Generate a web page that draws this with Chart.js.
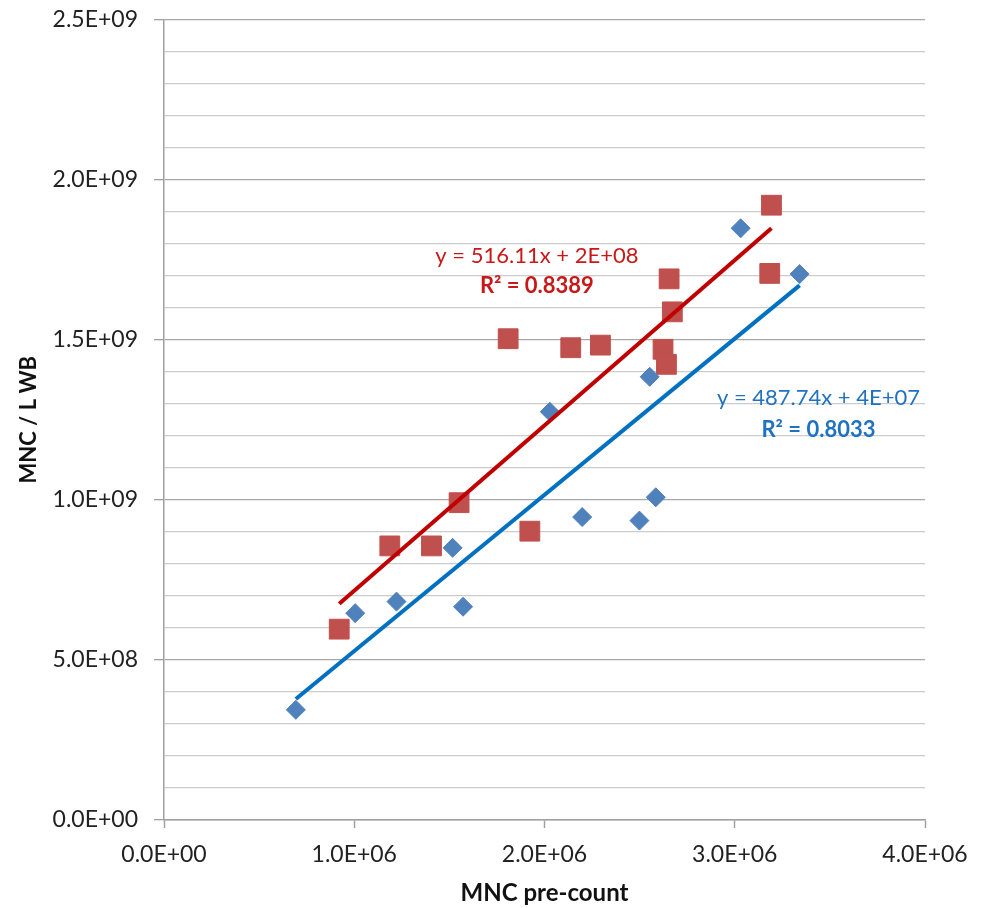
<!DOCTYPE html>
<html>
<head>
<meta charset="utf-8">
<script src="https://cdn.jsdelivr.net/npm/chart.js@4/dist/chart.umd.min.js"></script>
<style>
  body { margin: 0; background: #fff; }
  #wrap { width: 981px; height: 908px; }
</style>
</head>
<body>
<div id="wrap"><canvas id="mncChart" width="981" height="908"></canvas></div>
<script>
// series 1 (blue diamonds)
const blueX = [0.693e6, 1.005e6, 1.222e6, 1.517e6, 1.572e6, 2.028e6, 2.198e6, 2.499e6, 2.585e6, 2.553e6, 3.031e6, 3.341e6];
const blueY = [0.344e9, 0.646e9, 0.682e9, 0.850e9, 0.666e9, 1.275e9, 0.946e9, 0.935e9, 1.008e9, 1.384e9, 1.848e9, 1.705e9];

// series 2 (red squares)
const redX = [0.921e6, 1.187e6, 1.406e6, 1.551e6, 1.809e6, 1.923e6, 2.138e6, 2.294e6, 2.623e6, 2.641e6, 2.655e6, 2.672e6, 3.184e6, 3.193e6];
const redY = [0.596e9, 0.856e9, 0.856e9, 0.991e9, 1.503e9, 0.902e9, 1.475e9, 1.483e9, 1.470e9, 1.423e9, 1.690e9, 1.587e9, 1.707e9, 1.920e9];

// linear trendlines as printed on the chart
const blueFit = { slope: 487.74, intercept: 4e7, r2: '0.8033', eq: 'y = 487.74x + 4E+07' };
const redFit = { slope: 516.11, intercept: 2e8, r2: '0.8389', eq: 'y = 516.11x + 2E+08' };

// axis ticks
const xTicks = [0, 1e6, 2e6, 3e6, 4e6];
const yMajorTicks = [0, 5e8, 1e9, 1.5e9, 2e9, 2.5e9];

function sci(v) {
    if (v === 0) return '0.0E+00';
    const e = Math.floor(Math.log10(v) + 1e-9);
    const m = v / Math.pow(10, e);
    return m.toFixed(1) + 'E+' + String(e).padStart(2, '0');
}
function isMajor(v) {
    return yMajorTicks.some(t => Math.abs(t - v) < 1);
}
function pts(xs, ys) {
    return xs.map((x, i) => ({ x: x, y: ys[i] }));
}
function fitLine(xs, fit) {
    const x0 = Math.min(...xs), x1 = Math.max(...xs);
    return [x0, x1].map(x => ({ x: x, y: fit.slope * x + fit.intercept }));
}

const FONT = 'Lato, "Open Sans", sans-serif';

// equation labels (anchored in data space)
const eqLabels = {
    id: 'eqLabels',
    afterDatasetsDraw(chart) {
        const { ctx, scales: { x, y } } = chart;
        const items = [
            { fit: redFit, color: '#c81818', cx: 1.96e6, y1: 1.762e9, y2: 1.668e9 },
            { fit: blueFit, color: '#1f72bf', cx: 3.44e6, y1: 1.318e9, y2: 1.218e9 }
        ];
        ctx.save();
        ctx.textAlign = 'center';
        ctx.textBaseline = 'middle';
        items.forEach(it => {
            const px = x.getPixelForValue(it.cx);
            ctx.fillStyle = it.color;
            ctx.font = '22px ' + FONT;
            ctx.fillText(it.fit.eq, px, y.getPixelForValue(it.y1));
            ctx.font = 'bold 22px ' + FONT;
            ctx.fillText('R\u00b2 = ' + it.fit.r2, px, y.getPixelForValue(it.y2));
        });
        ctx.restore();
    }
};

new Chart(document.getElementById('mncChart'), {
    type: 'scatter',
    data: {
        datasets: [
            {
                label: 'red trend',
                data: fitLine(redX, redFit),
                showLine: true,
                borderColor: '#c00000',
                borderWidth: 4,
                pointRadius: 0,
                order: 0
            },
            {
                label: 'blue trend',
                data: fitLine(blueX, blueFit),
                showLine: true,
                borderColor: '#0070c0',
                borderWidth: 4,
                pointRadius: 0,
                order: 0
            },
            {
                label: 'MNC blue',
                data: pts(blueX, blueY),
                pointStyle: 'rectRot',
                pointRadius: 9.5,
                backgroundColor: '#4f81bd',
                borderColor: '#4f81bd',
                borderWidth: 1,
                order: 1
            },
            {
                label: 'MNC red',
                data: pts(redX, redY),
                pointStyle: 'rect',
                pointRadius: 14,
                backgroundColor: '#c0504d',
                borderColor: '#c0504d',
                borderWidth: 1,
                order: 1
            }
        ]
    },
    options: {
        responsive: false,
        animation: false,
        layout: { padding: { left: 0, top: 19.5, right: 56, bottom: 0 } },
        plugins: {
            legend: { display: false },
            tooltip: { enabled: false }
        },
        scales: {
            x: {
                type: 'linear',
                min: 0,
                max: 4e6,
                afterBuildTicks: s => { s.ticks = xTicks.map(v => ({ value: v })); },
                afterFit: s => { s.height = 88; },
                ticks: {
                    callback: v => sci(v),
                    color: '#222',
                    font: { family: FONT, size: 23 },
                    padding: 13,
                    maxRotation: 0
                },
                grid: {
                    drawOnChartArea: false,
                    tickLength: 8,
                    tickColor: '#a0a0a0',
                    tickWidth: 1.5
                },
                border: { color: '#a0a0a0', width: 1.5 },
                title: {
                    display: true,
                    text: 'MNC pre-count',
                    color: '#111',
                    font: { family: FONT, size: 24, weight: 'bold' },
                    padding: { top: 1, bottom: 0 }
                }
            },
            y: {
                type: 'linear',
                min: 0,
                max: 2.5e9,
                ticks: {
                    stepSize: 1e8,
                    autoSkip: false,
                    callback: v => isMajor(v) ? sci(v) : '',
                    color: '#222',
                    font: { family: FONT, size: 23 },
                    padding: 16
                },
                afterFit: s => { s.width = 164; s.paddingTop = 0; s.paddingBottom = 0; },
                grid: {
                    color: c => isMajor(c.tick.value) ? '#a8a8a8' : '#cccccc',
                    lineWidth: 1.3,
                    tickLength: 10,
                    tickColor: c => isMajor(c.tick.value) ? '#a0a0a0' : 'rgba(0,0,0,0)'
                },
                border: { color: '#a0a0a0', width: 1.5 },
                title: {
                    display: true,
                    text: 'MNC / L WB',
                    color: '#111',
                    font: { family: FONT, size: 22, weight: 'bold' },
                    padding: { top: 16, bottom: 0 }
                }
            }
        }
    },
    plugins: [eqLabels]
});
</script>
</body>
</html>
